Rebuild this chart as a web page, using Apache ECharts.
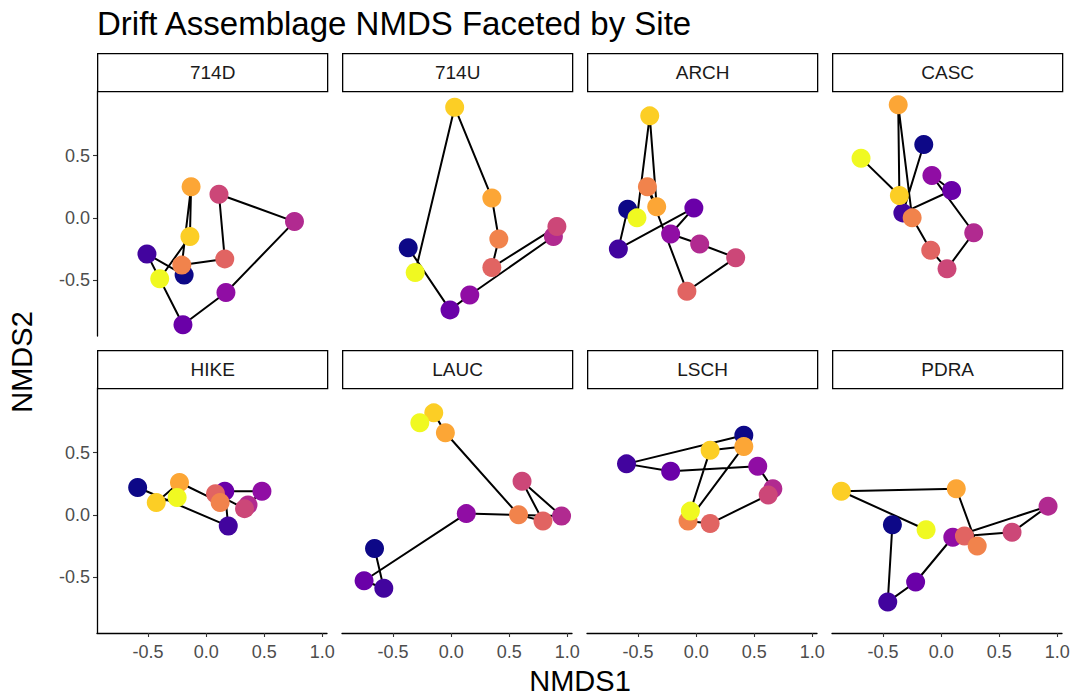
<!DOCTYPE html>
<html>
<head>
<meta charset="utf-8">
<script src="https://cdn.jsdelivr.net/npm/echarts@6/dist/echarts.min.js"></script>
<style>
  html, body { margin: 0; padding: 0; background: #fff; }
  #chart { width: 1077px; height: 696px; }
</style>
</head>
<body>
<div id="chart"></div>
<script>
// Sampling step of each point (1 = first visit ... 11 = last visit); colour follows plasma.
const plasma = ['#0D0887', '#42049E', '#6A00A8', '#900DA4', '#B12A90', '#CC4778',
                '#E16462', '#F1834C', '#FCA636', '#FCCE25', '#F0F921'];

const sites = ['714D', '714U', 'ARCH', 'CASC', 'HIKE', 'LAUC', 'LSCH', 'PDRA'];

// NMDS scores per site, in sampling order
const step_714D  = [1, 2, 3, 4, 5, 6, 7, 8, 9, 10, 11];
const nmds1_714D = [-0.19, -0.51, -0.20, 0.17, 0.76, 0.11, 0.16, -0.21, -0.13, -0.14, -0.40];
const nmds2_714D = [-0.46, -0.29, -0.86, -0.60, -0.03, 0.19, -0.33, -0.38, 0.25, -0.15, -0.49];

const step_714U  = [1, 3, 4, 5, 6, 7, 8, 9, 10, 11];
const nmds1_714U = [-0.37, -0.01, 0.16, 0.88, 0.91, 0.35, 0.41, 0.35, 0.03, -0.31];
const nmds2_714U = [-0.24, -0.74, -0.62, -0.15, -0.07, -0.40, -0.17, 0.16, 0.89, -0.44];

const step_ARCH  = [1, 2, 3, 4, 5, 6, 7, 8, 9, 10, 11];
const nmds1_ARCH = [-0.59, -0.67, -0.02, -0.22, 0.03, 0.34, -0.08, -0.42, -0.34, -0.40, -0.51];
const nmds2_ARCH = [0.07, -0.25, 0.08, -0.13, -0.21, -0.32, -0.59, 0.25, 0.09, 0.82, 0.00];

const step_CASC  = [1, 2, 3, 4, 5, 6, 7, 8, 9, 10, 11];
const nmds1_CASC = [-0.15, -0.33, 0.09, -0.08, 0.28, 0.05, -0.09, -0.25, -0.37, -0.36, -0.69];
const nmds2_CASC = [0.59, 0.04, 0.22, 0.34, -0.12, -0.41, -0.26, 0.00, 0.91, 0.18, 0.48];

const step_HIKE  = [1, 2, 3, 4, 5, 6, 7, 8, 9, 10, 11];
const nmds1_HIKE = [-0.59, 0.19, 0.16, 0.48, 0.36, 0.33, 0.08, 0.12, -0.23, -0.43, -0.25];
const nmds2_HIKE = [0.22, -0.09, 0.19, 0.19, 0.08, 0.05, 0.17, 0.10, 0.26, 0.10, 0.14];

const step_LAUC  = [1, 2, 3, 4, 5, 6, 7, 8, 9, 10, 11];
const nmds1_LAUC = [-0.66, -0.58, -0.75, 0.13, 0.95, 0.61, 0.79, 0.58, -0.05, -0.15, -0.27];
const nmds2_LAUC = [-0.27, -0.59, -0.53, 0.01, -0.01, 0.27, -0.05, 0.00, 0.66, 0.82, 0.74];

const step_LSCH  = [1, 2, 3, 4, 5, 6, 7, 8, 9, 10, 11];
const nmds1_LSCH = [0.41, -0.60, -0.22, 0.53, 0.66, 0.62, 0.12, -0.07, 0.41, 0.12, -0.05];
const nmds2_LSCH = [0.64, 0.41, 0.35, 0.39, 0.21, 0.16, -0.07, -0.05, 0.55, 0.52, 0.03];

const step_PDRA  = [1, 2, 3, 4, 5, 6, 7, 8, 9, 10, 11];
const nmds1_PDRA = [-0.42, -0.46, -0.22, 0.10, 0.92, 0.61, 0.20, 0.31, 0.13, -0.86, -0.13];
const nmds2_PDRA = [-0.08, -0.70, -0.54, -0.18, 0.07, -0.14, -0.17, -0.25, 0.21, 0.19, -0.12];

const siteData = [
  [step_714D, nmds1_714D, nmds2_714D],
  [step_714U, nmds1_714U, nmds2_714U],
  [step_ARCH, nmds1_ARCH, nmds2_ARCH],
  [step_CASC, nmds1_CASC, nmds2_CASC],
  [step_HIKE, nmds1_HIKE, nmds2_HIKE],
  [step_LAUC, nmds1_LAUC, nmds2_LAUC],
  [step_LSCH, nmds1_LSCH, nmds2_LSCH],
  [step_PDRA, nmds1_PDRA, nmds2_PDRA]
];

const xTicks = [-0.5, 0, 0.5, 1.0];
const yTicks = [-0.5, 0, 0.5];

// Panel layout (facet grid 2 x 4)
const FONT = '"Liberation Sans", Arial, sans-serif';
const panelLeft0 = 97, panelStep = 245, panelW = 230, panelH = 245;
const rowTop = [91, 388];
const stripH = 38;
const xRange = [-0.94, 1.04];
const yRange = [-0.95, 1.02];

const grids = [], xAxes = [], yAxes = [], series = [], graphics = [];

sites.forEach((site, i) => {
  const r = Math.floor(i / 4), c = i % 4;
  const left = panelLeft0 + panelStep * c;
  const top = rowTop[r];
  grids.push({ left: left, top: top, width: panelW, height: panelH, containLabel: false });

  const showX = r === 1, showY = c === 0;
  xAxes.push({
    type: 'value', gridIndex: i, min: xRange[0], max: xRange[1],
    splitLine: { show: false },
    axisLine: { show: showX, onZero: false, lineStyle: { color: '#000', width: 1.3 } },
    axisTick: { show: showX, length: 4, customValues: xTicks, lineStyle: { color: '#333', width: 1.1 } },
    axisLabel: {
      show: showX, customValues: xTicks, color: '#4d4d4d', fontSize: 18, fontFamily: FONT,
      margin: 10, formatter: v => Number(v).toFixed(1)
    }
  });
  yAxes.push({
    type: 'value', gridIndex: i, min: yRange[0], max: yRange[1],
    splitLine: { show: false },
    axisLine: { show: showY, onZero: false, lineStyle: { color: '#000', width: 1.3 } },
    axisTick: { show: showY, length: 4, customValues: yTicks, lineStyle: { color: '#333', width: 1.1 } },
    axisLabel: {
      show: showY, customValues: yTicks, color: '#4d4d4d', fontSize: 18, fontFamily: FONT,
      margin: 7, formatter: v => Number(v).toFixed(1)
    }
  });

  const [steps, xs, ys] = siteData[i];
  const pts = xs.map((x, k) => [x, ys[k]]);

  // sampling trajectory
  series.push({
    type: 'line', xAxisIndex: i, yAxisIndex: i, data: pts,
    symbol: 'none', silent: true, z: 2,
    lineStyle: { color: '#000', width: 2 }
  });
  // sampling points, coloured by visit
  series.push({
    type: 'scatter', xAxisIndex: i, yAxisIndex: i, z: 3,
    symbolSize: 19,
    data: pts.map((p, k) => ({ value: p, itemStyle: { color: plasma[steps[k] - 1], opacity: 1 } }))
  });

  // facet strip
  graphics.push({
    type: 'group', left: left, top: top - stripH,
    children: [
      { type: 'rect', shape: { x: 0, y: 0, width: panelW, height: stripH },
        style: { fill: '#fff', stroke: '#000', lineWidth: 1.3 } },
      { type: 'text', x: panelW / 2, y: stripH / 2,
        style: { text: site, fill: '#1a1a1a', font: '19px ' + FONT, textAlign: 'center', textVerticalAlign: 'middle' } }
    ]
  });
});

// axis titles
graphics.push({
  type: 'text', x: 580, y: 681,
  style: { text: 'NMDS1', fill: '#000', font: '29px ' + FONT, textAlign: 'center', textVerticalAlign: 'middle' }
});
graphics.push({
  type: 'text', x: 22, y: 362, rotation: Math.PI / 2,
  style: { text: 'NMDS2', fill: '#000', font: '29px ' + FONT, textAlign: 'center', textVerticalAlign: 'middle' }
});

const chart = echarts.init(document.getElementById('chart'), null, { renderer: 'svg' });
chart.setOption({
  animation: false,
  backgroundColor: '#fff',
  title: {
    text: 'Drift Assemblage NMDS Faceted by Site',
    left: 92, top: 2,
    textStyle: { color: '#000', fontSize: 33, fontWeight: 'normal', fontFamily: FONT }
  },
  grid: grids,
  xAxis: xAxes,
  yAxis: yAxes,
  series: series,
  graphic: graphics
});
</script>
</body>
</html>
